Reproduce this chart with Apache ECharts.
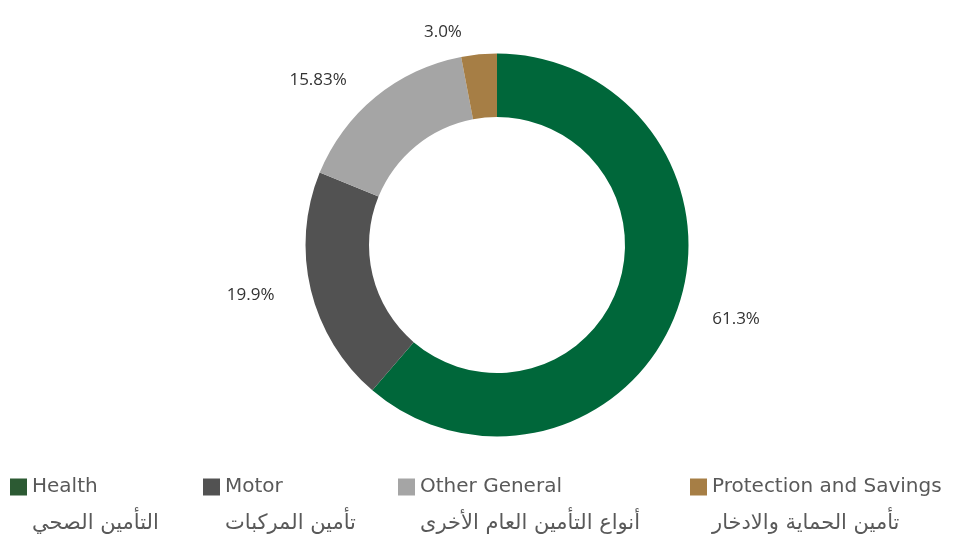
<!DOCTYPE html>
<html>
<head>
<meta charset="utf-8">
<script src="https://cdn.jsdelivr.net/npm/echarts@6/dist/echarts.min.js"></script>
<style>
  html, body { margin: 0; padding: 0; background: #fff; }
  #chart { width: 956px; height: 536px; }
</style>
</head>
<body>
<div id="chart"></div>
<script>
// segment names, arabic legend lines, shares (%)
const names = ['Health', 'Motor', 'Other General', 'Protection and Savings']
const arabicNames = ['التأمين الصحي', 'تأمين المركبات', 'أنواع التأمين العام الأخرى', 'تأمين الحماية والادخار']
const shares = [61.3, 19.9, 15.83, 3.0]
const shareLabels = ['61.3%', '19.9%', '15.83%', '3.0%']
const sliceColors = ['#00673a', '#525252', '#a5a5a5', '#a67e45']
const legendColors = ['#2c5a33', '#525252', '#a5a5a5', '#a67e45']
const legendLeft = [10, 203, 398, 690]

const chart = echarts.init(document.getElementById('chart'))

function legendFormatter (name) {
  const i = names.indexOf(name)
  return '{pad| }\n{en|' + name + '}\n{ar|' + arabicNames[i] + '}'
}

const legends = names.map((name, i) => ({
  show: true,
  orient: 'horizontal',
  left: legendLeft[i],
  top: 440,
  padding: 0,
  selectedMode: false,
  icon: 'rect',
  itemWidth: 17,
  itemHeight: 17,
  itemGap: 0,
  data: [{ name: name, itemStyle: { color: legendColors[i] } }],
  formatter: legendFormatter,
  textStyle: {
    color: '#595959',
    rich: {
      pad: { fontSize: 20, lineHeight: 37 },
      en: { fontSize: 20, lineHeight: 37, fontFamily: '"DejaVu Sans", sans-serif', color: '#595959' },
      ar: { fontSize: 21, lineHeight: 37, fontFamily: '"DejaVu Sans", sans-serif', color: '#595959' }
    }
  }
}))

const option = {
  animation: false,
  backgroundColor: '#ffffff',
  legend: legends,
  series: [
    {
      type: 'pie',
      center: [497, 245],
      radius: [128, 191.5],
      startAngle: 90,
      clockwise: true,
      avoidLabelOverlap: false,
      itemStyle: { borderWidth: 0 },
      label: {
        show: true,
        position: 'outside',
        fontSize: 17,
        fontFamily: '"Open Sans", sans-serif',
        color: '#333333',
        formatter: p => shareLabels[p.dataIndex]
      },
      labelLine: { show: false, length: 22, length2: 10 },
      emphasis: { disabled: true },
      data: names.map((name, i) => ({
        name: name,
        value: shares[i],
        itemStyle: { color: sliceColors[i] }
      }))
    }
  ]
}

chart.setOption(option)
</script>
</body>
</html>
